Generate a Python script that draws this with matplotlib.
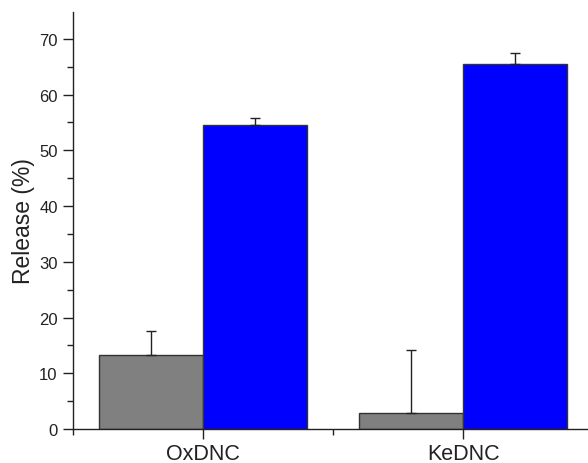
import matplotlib.pyplot as plt
import numpy as np
from matplotlib.ticker import MultipleLocator

plt.rcParams['font.family'] = ['Liberation Sans', 'DejaVu Sans']

categories = ['OxDNC', 'KeDNC']
gray_vals = [13.2, 2.9]
gray_err = [4.4, 11.3]
blue_vals = [54.6, 65.5]
blue_err = [1.2, 1.9]

x = np.arange(1, len(categories) + 1)
width = 0.4

fig = plt.figure(figsize=(5.88, 4.64), dpi=100)
ax = fig.add_axes([73 / 588, 34 / 464, 515 / 588, 417 / 464])

ax.bar(x - width / 2, gray_vals, width, color='#808080', edgecolor='#333333',
       linewidth=1.0, yerr=[np.zeros(len(gray_err)), gray_err],
       error_kw=dict(ecolor='#222222', elinewidth=1.0, capsize=3.5, capthick=1.0))
ax.bar(x + width / 2, blue_vals, width, color='#0000ff', edgecolor='#333333',
       linewidth=1.0, yerr=[np.zeros(len(blue_err)), blue_err],
       error_kw=dict(ecolor='#222222', elinewidth=1.0, capsize=3.5, capthick=1.0))

ax.set_xlim(0.5, 2.48)
ax.set_ylim(0, 74.8)

ax.set_xticks(x)
ax.set_xticklabels(categories, fontsize=15.5)
ax.xaxis.set_minor_locator(MultipleLocator(0.5))
ax.yaxis.set_major_locator(MultipleLocator(10))
ax.yaxis.set_minor_locator(MultipleLocator(5))
ax.tick_params(axis='y', which='major', length=7, width=1, labelsize=12, colors='#222222', pad=4)
ax.tick_params(axis='y', which='minor', length=4, width=1, color='#222222')
ax.tick_params(axis='x', which='major', length=7, width=1, colors='#222222', pad=3)
ax.tick_params(axis='x', which='minor', length=4, width=1, color='#222222')

ax.set_ylabel('Release (%)', fontsize=16.5, color='#222222', labelpad=3)

for side in ['top', 'right']:
    ax.spines[side].set_visible(False)
for side in ['left', 'bottom']:
    ax.spines[side].set_color('#222222')
    ax.spines[side].set_linewidth(1.0)

plt.savefig('out.png', dpi=100)
